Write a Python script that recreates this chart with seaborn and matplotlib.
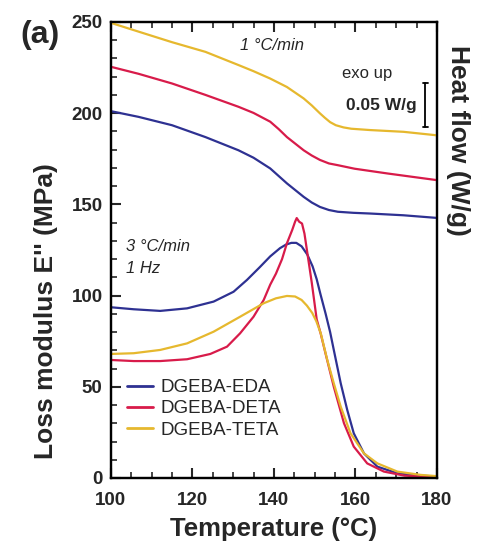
import numpy as np
import pandas as pd
import matplotlib
matplotlib.use("Agg")
import matplotlib.pyplot as plt
import seaborn as sns
from matplotlib.ticker import MultipleLocator

sns.set_theme(style="ticks")
plt.rcParams['font.family'] = ['Liberation Sans', 'DejaVu Sans']

series_names = ["DGEBA-EDA", "DGEBA-DETA", "DGEBA-TETA"]
colors = ["#2E3192", "#D81B4A", "#E6B82E"]

# DMA loss modulus E'' (MPa)
eda_T = [100, 105.6, 112.1, 118.7, 125.2, 130.1, 133.4, 136.5, 139.1, 141.5, 143, 144.3, 145.5, 146.8, 148.2, 149.5, 150.5, 151.4, 152.7, 153.8, 154.7, 156.4, 158, 159.6, 162.1, 165.4, 170.3, 176, 180]
eda_E = [93.6, 92.5, 91.6, 93, 96.7, 102.1, 108.6, 115.5, 121.5, 126, 128, 128.9, 128.9, 127, 122.5, 116, 109, 101, 90, 80, 70.2, 51.9, 37.3, 24.5, 13.5, 6.2, 2.6, 1.3, 0.8]

deta_T = [100, 105.6, 112.1, 118.7, 124.4, 128.5, 131.7, 135, 137.5, 139.1, 140.5, 142, 143.2, 144.5, 145.2, 145.6, 146.2, 146.9, 147.5, 148.1, 149.3, 150.5, 151.5, 152.7, 154.7, 157.2, 159.6, 162.9, 167, 172, 180]
deta_E = [64.7, 64.1, 64.1, 65.1, 68, 72, 79.3, 88.4, 97.6, 106, 112, 120, 128.7, 136, 140.5, 142.5, 140.5, 139.5, 134, 125, 107, 87, 79, 68, 50, 30, 17.2, 8, 3.5, 1.3, 0.3]

teta_T = [100, 105.6, 112.1, 118.7, 125.2, 131.7, 137.5, 140.5, 143.2, 145.2, 146.8, 148.1, 149.4, 150.4, 151.5, 153.1, 154.7, 156.4, 158.8, 162.1, 165.4, 170.3, 176, 180]
teta_E = [68, 68.4, 70.2, 73.8, 80.2, 88.4, 95.8, 98.5, 99.8, 99.5, 97.6, 94.5, 90.5, 86, 79.3, 64.7, 51.9, 39.1, 24.5, 13.5, 8, 3.5, 1.7, 1.0]

# DSC heat flow (W/g, curves offset for clarity)
eda_hT = [100, 106.8, 115, 123.2, 131.3, 135, 139.1, 143.2, 147.3, 149.3, 151.3, 153.5, 155.7, 159.5, 163.6, 171.8, 180]
eda_hf = [0.4175, 0.411, 0.4015, 0.388, 0.373, 0.3645, 0.3523, 0.3353, 0.320, 0.3135, 0.3085, 0.305, 0.303, 0.3018, 0.301, 0.299, 0.296]

deta_hT = [100, 106.8, 115, 123.2, 131.3, 135, 139.1, 141.2, 143.2, 147.3, 149.3, 151.3, 153.5, 155.7, 159.8, 168, 180]
deta_hf = [0.468, 0.460, 0.449, 0.436, 0.4225, 0.4155, 0.4055, 0.397, 0.388, 0.373, 0.367, 0.362, 0.358, 0.356, 0.352, 0.3465, 0.339]

teta_hT = [100, 106.8, 115, 123.2, 131.3, 135, 139.1, 143.2, 147.3, 149.3, 151.3, 152.5, 153.8, 155.2, 157.1, 159, 163.6, 171.8, 180]
teta_hf = [0.518, 0.508, 0.496, 0.485, 0.470, 0.463, 0.4546, 0.445, 0.432, 0.424, 0.415, 0.410, 0.405, 0.4015, 0.399, 0.3975, 0.396, 0.394, 0.390]

fig = plt.figure(figsize=(4.78, 5.58), dpi=100)
ax = fig.add_axes([0.232, 0.1434, 0.682, 0.8172])
ax2 = ax.twinx()

dma = [(eda_T, eda_E), (deta_T, deta_E), (teta_T, teta_E)]
dsc = [(eda_hT, eda_hf), (deta_hT, deta_hf), (teta_hT, teta_hf)]
for name, c, (t, e), (ht, hf) in zip(series_names, colors, dma, dsc):
    sns.lineplot(x=t, y=e, ax=ax, color=c, lw=1.6, label=name, sort=False, estimator=None)
    sns.lineplot(x=ht, y=hf, ax=ax2, color=c, lw=1.6, sort=False, estimator=None, legend=False)

ax.set_xlim(100, 180)
ax.set_ylim(0, 250)
ax2.set_ylim(0, 0.519)
ax2.set_yticks([])
ax2.set_ylabel("")

ax.xaxis.set_major_locator(MultipleLocator(20))
ax.xaxis.set_minor_locator(MultipleLocator(5))
ax.yaxis.set_major_locator(MultipleLocator(50))
ax.yaxis.set_minor_locator(MultipleLocator(10))
ax.tick_params(axis='both', which='major', direction='in', length=7, width=1.5,
               labelsize=13.5, top=True, right=False)
ax.tick_params(axis='x', which='major', pad=10)
ax.tick_params(axis='y', which='major', pad=6)
ax.tick_params(axis='both', which='minor', direction='in', length=4, width=1.2, top=True, right=False)
for lab in ax.get_xticklabels() + ax.get_yticklabels():
    lab.set_fontweight('bold')
for a in (ax, ax2):
    for s in a.spines.values():
        s.set_linewidth(1.6)
        s.set_color('black')

ax.set_xlabel("Temperature (°C)", fontsize=18.5, fontweight='bold', labelpad=6)
ax.set_ylabel("Loss modulus E'' (MPa)", fontsize=19, fontweight='bold')
ax.yaxis.set_label_coords(-0.163, 0.366)

fig.text(458 / 478, 1 - 140 / 558, "Heat flow (W/g)", rotation=270, fontsize=19,
         fontweight='bold', ha='center', va='center')

ax.text(139.6, 237, "1 °C/min", style='italic', fontsize=12, ha='center', va='center')
ax.text(103.8, 127, "3 °C/min", style='italic', fontsize=12, ha='left', va='center')
ax.text(103.8, 115, "1 Hz", style='italic', fontsize=12, ha='left', va='center')

ax2.text(162.8, 0.460, "exo up", fontsize=12, ha='center', va='center')
ax2.text(175.0, 0.424, "0.05 W/g", fontsize=12.5, fontweight='bold', ha='right', va='center')
ax2.plot([177.2, 177.2], [0.400, 0.450], color='black', lw=1.3)
ax2.plot([176.5, 177.9], [0.400, 0.400], color='black', lw=1.3)
ax2.plot([176.5, 177.9], [0.450, 0.450], color='black', lw=1.3)

leg = ax.legend(loc='lower left', bbox_to_anchor=(0.027, 0.07), frameon=False, fontsize=13.5,
                handlelength=1.4, handletextpad=0.37, labelspacing=0.22, borderaxespad=0)
for h in leg.get_lines():
    h.set_linewidth(2)

fig.text(0.042, 0.937, "(a)", fontsize=23, fontweight='bold', ha='left', va='center')

fig.savefig("out.png", dpi=100)
